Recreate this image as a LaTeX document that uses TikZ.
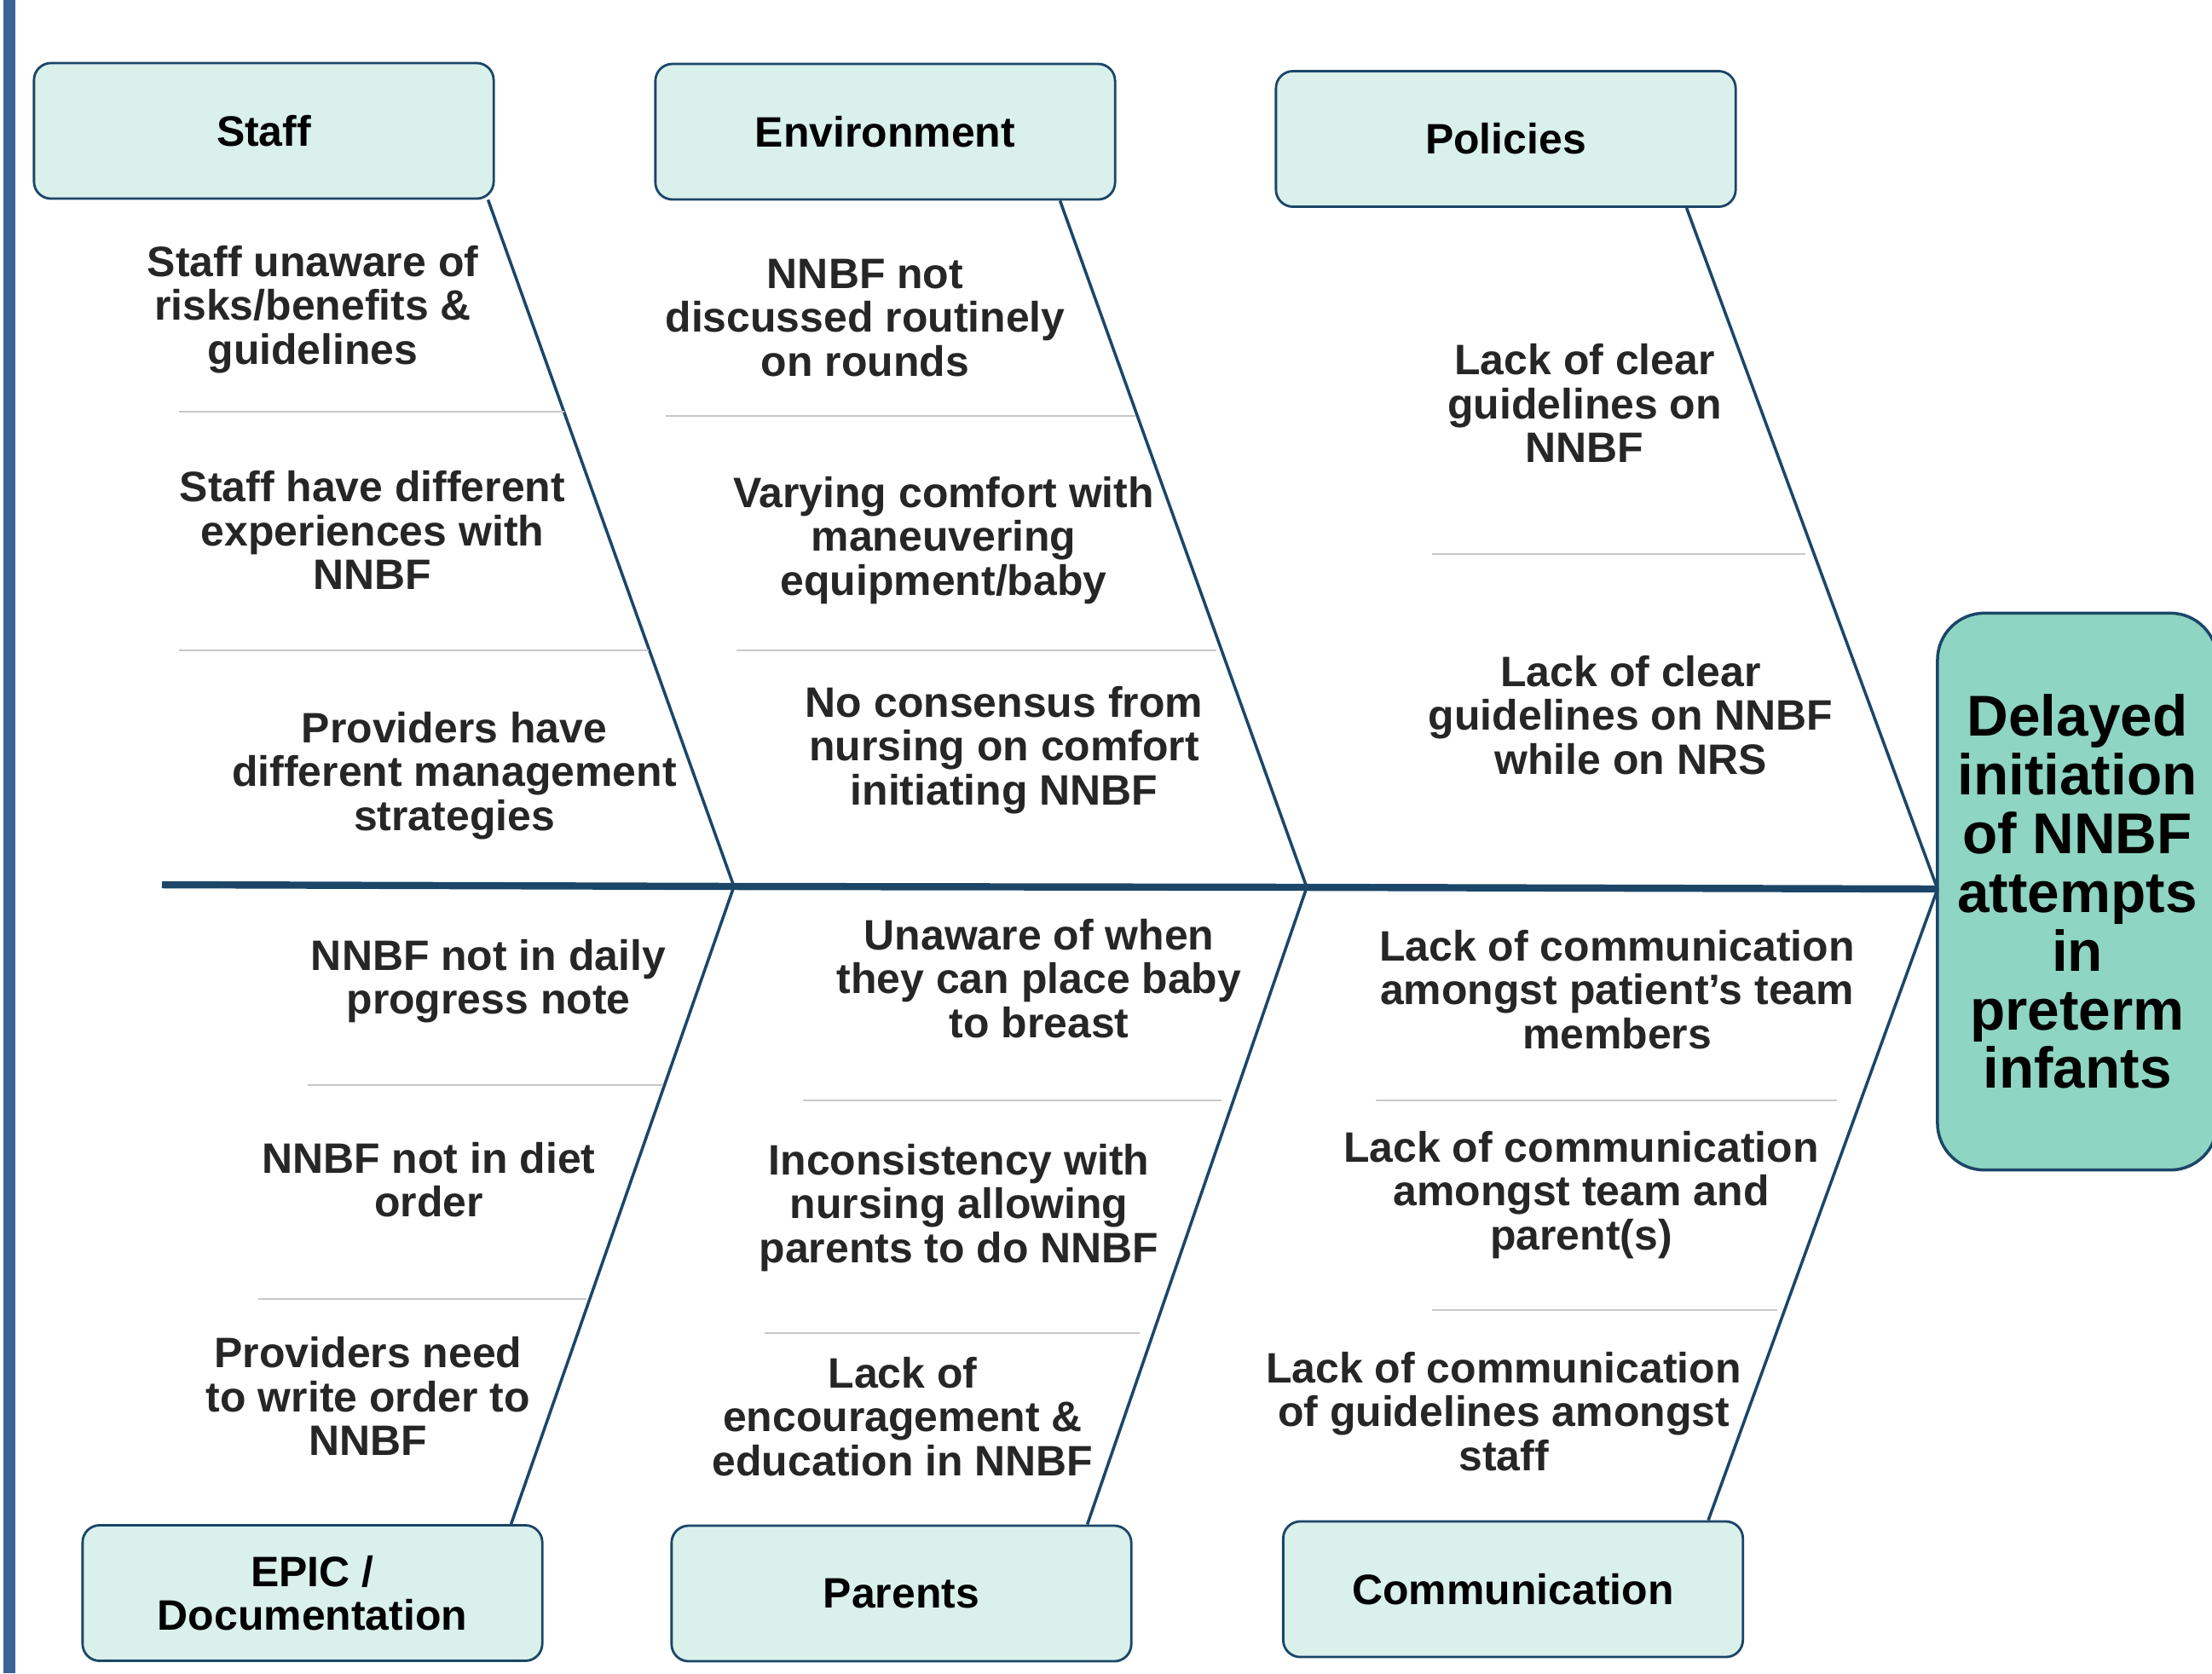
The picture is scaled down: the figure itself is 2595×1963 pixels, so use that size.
\documentclass[tikz,border=0pt]{standalone}
\usepackage{fontspec}
\setmainfont{Liberation Sans}
\usetikzlibrary{calc}
\definecolor{boxfill}{HTML}{DAF0EA}
\definecolor{effectfill}{HTML}{8ED5C3}
\definecolor{bonecol}{HTML}{1B4668}
\definecolor{sepgray}{HTML}{C8C8C8}
\definecolor{barblue}{HTML}{3B6296}
\definecolor{causetext}{HTML}{262626}

\begin{document}
\begin{tikzpicture}[x=0.01cm,y=-0.01cm,
  category/.style={draw=bonecol,line width=0.8pt,fill=boxfill,rounded corners=0.2cm,
    minimum width=5.39cm,minimum height=1.59cm,align=center,inner sep=0pt,
    font=\fontsize{14.2}{14.6}\selectfont\bfseries},
  cause/.style={align=center,text=causetext,inner sep=0pt,
    font=\fontsize{14.2}{14.6}\selectfont\bfseries},
  effect/.style={draw=bonecol,line width=1pt,fill=effectfill,rounded corners=0.55cm,
    minimum width=3.28cm,minimum height=6.53cm,align=center,inner sep=0pt,
    font=\fontsize{19.2}{19.6}\selectfont\bfseries},
  bonestyle/.style={draw=bonecol,line width=1pt},
  spinestyle/.style={draw=bonecol,line width=2.4pt},
  sep/.style={draw=sepgray,line width=0.6pt}]
  \useasboundingbox (0,0) rectangle (2595,1963);
  \fill[barblue] (4,0) rectangle (18,1963);

  % categories and effect
  \node[category] (staff) at (309.5,153.5) {Staff};
  \node[category] (env) at (1038.5,154.5) {Environment};
  \node[category] (pol) at (1766.5,163) {Policies};
  \node[category] (epic) at (366.5,1869) {EPIC /\\Documentation};
  \node[category] (par) at (1057.5,1869.5) {Parents};
  \node[category] (comm) at (1775,1864.5) {Communication};
  \node[effect] (eff) at (2437,1046) {Delayed\\initiation\\of NNBF\\attempts\\in\\preterm\\infants};

  % spine and bones
  \coordinate (tail) at (190,1038);
  \coordinate (j1) at (861,1040);
  \coordinate (j2) at (1533,1041);
  \coordinate (j3) at (2273,1043);
  \draw[spinestyle] (tail) -- (j1) -- (j2) -- (j3);
  \draw[bonestyle] ($(staff.south east)+(-8,0)$) -- (j1);
  \draw[bonestyle] ($(env.south east)+(-66,0)$) -- (j2);
  \draw[bonestyle] ($(pol.south east)+(-59,0)$) -- (j3);
  \draw[bonestyle] ($(epic.north east)+(-38,0)$) -- (j1);
  \draw[bonestyle] ($(par.north east)+(-53,0)$) -- (j2);
  \draw[bonestyle] ($(comm.north east)+(-42,0)$) -- (j3);

  % separators
  \foreach \xa/\xb/\yy in {210/662/483, 210/761/763, 781/1332/488, 864/1427/763,
      1680/2118/650, 361/778/1273, 303/688/1524, 942/1433/1291, 897/1337/1564,
      1614/2155/1291, 1680/2085/1537}
    \draw[sep] (\xa,\yy) -- (\xb,\yy);

  % causes
  \node[cause] (s1) at (367,363) {Staff unaware of\\risks/benefits \&\\guidelines};
  \node[cause] (s2) at (437,622) {Staff have different\\experiences with\\NNBF};
  \node[cause] (s3) at (533,910) {Providers have\\different management\\strategies};
  \node[cause] (e1) at (1015,373) {NNBF not\\discussed routinely\\on rounds};
  \node[cause] (e2) at (1107,634) {Varying comfort with\\maneuvering\\equipment/baby};
  \node[cause] (e3) at (1178,880) {No consensus from\\nursing on comfort\\initiating NNBF};
  \node[cause] (p1) at (1859,473) {Lack of clear\\guidelines on\\NNBF};
  \node[cause] (p2) at (1913,839) {Lack of clear\\guidelines on NNBF\\while on NRS};
  \node[cause] (d1) at (573,1151) {NNBF not in daily\\progress note};
  \node[cause] (d2) at (503,1384) {NNBF not in diet\\order};
  \node[cause] (d3) at (432,1638) {Providers need\\to write order to\\NNBF};
  \node[cause] (a1) at (1219,1148) {Unaware of when\\they can place baby\\to breast};
  \node[cause] (a2) at (1125,1417) {Inconsistency with\\nursing allowing\\parents to do NNBF};
  \node[cause] (a3) at (1059,1662) {Lack of\\encouragement \&\\education in NNBF};
  \node[cause] (c1) at (1897,1161) {Lack of communication\\amongst patient’s team\\members};
  \node[cause] (c2) at (1855,1402) {Lack of communication\\amongst team and\\parent(s)};
  \node[cause] (c3) at (1764,1656) {Lack of communication\\of guidelines amongst\\staff};
\end{tikzpicture}
\end{document}
